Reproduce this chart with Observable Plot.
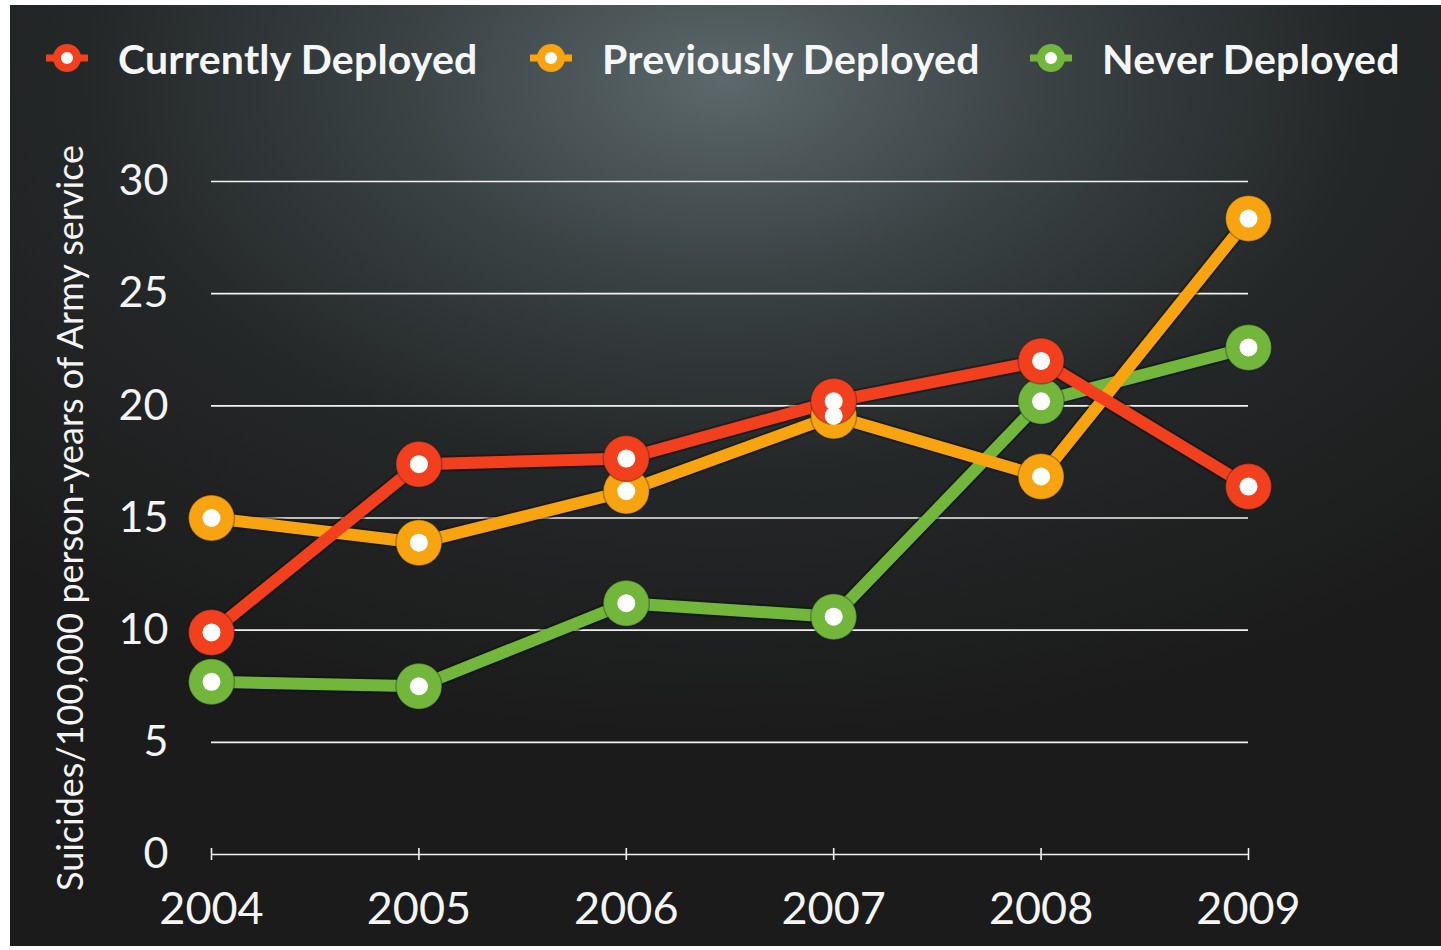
<!DOCTYPE html>
<html>
<head>
<meta charset="utf-8">
<script src="https://cdn.jsdelivr.net/npm/d3@7"></script>
<script src="https://cdn.jsdelivr.net/npm/@observablehq/plot@0.6"></script>
<style>
  html, body { margin: 0; padding: 0; background: #ffffff; }
  #card {
    position: absolute; left: 10px; top: 5px; width: 1431px; height: 941px;
    background: radial-gradient(ellipse 75% 70% at 50% 8%, #5c686b 0%, #3a4244 30%, #242728 60%, #1b1b1b 100%);
    overflow: hidden;
  }
  #legend { position: absolute; left: 0; top: 0; width: 1431px; height: 110px; }
  .item { position: absolute; top: 23px; height: 60px; display: flex; align-items: center; }
  .item span { font-family: Lato, "Open Sans", sans-serif; font-weight: 700; font-size: 41px; color: #f4f6f8; margin-left: 30px; letter-spacing: 0.2px; }
  #chart { position: absolute; left: 0; top: 110px; }
</style>
</head>
<body>
<div id="card">
  <div id="legend"></div>
  <div id="chart"></div>
</div>
<script>
const years = [2004, 2005, 2006, 2007, 2008, 2009];
const seriesNames = ["Currently Deployed", "Previously Deployed", "Never Deployed"];
const seriesColors = ["#f2401e", "#f8a410", "#72b63c"];
const currentlyDeployed = [9.9, 17.4, 17.65, 20.2, 22.0, 16.4];
const previouslyDeployed = [15.0, 13.9, 16.2, 19.55, 16.85, 28.35];
const neverDeployed = [7.7, 7.5, 11.2, 10.6, 20.2, 22.6];
const yTicks = [0, 5, 10, 15, 20, 25, 30];
const yLabel = "Suicides/100,000 person-years of Army service";

const valuesBySeries = [currentlyDeployed, previouslyDeployed, neverDeployed];
// draw order: green, orange, red (red on top)
const drawOrder = [2, 1, 0];
const data = [];
for (const s of drawOrder) {
  years.forEach((yr, i) => data.push({series: seriesNames[s], year: yr, value: valuesBySeries[s][i]}));
}

// Legend
const legendX = [36, 520, 1020];
const legend = document.getElementById("legend");
seriesNames.forEach((name, i) => {
  const div = document.createElement("div");
  div.className = "item";
  div.style.left = legendX[i] + "px";
  div.innerHTML = `<svg width="42" height="32" viewBox="0 0 42 32">
      <line x1="0" y1="16" x2="42" y2="16" stroke="${seriesColors[i]}" stroke-width="7"/>
      <circle cx="21" cy="16" r="14" fill="${seriesColors[i]}"/>
      <circle cx="21" cy="16" r="6" fill="#ffffff"/>
    </svg><span>${name}</span>`;
  legend.appendChild(div);
});

const color = {domain: seriesNames, range: seriesColors};
const chart = Plot.plot({
  width: 1431,
  height: 831,
  marginLeft: 201,
  marginRight: 193,
  marginTop: 66,
  marginBottom: 92,
  style: {background: "transparent", color: "#f4f4f4", fontFamily: "Lato, 'Open Sans', sans-serif", overflow: "visible"},
  x: {domain: [2004, 2009]},
  y: {domain: [0, 30]},
  color,
  marks: [
    Plot.ruleY(yTicks, {stroke: "#f2f2f2", strokeWidth: 1.6}),
    Plot.ruleX(years, {x: d => d, y1: 0, y2: 0, insetTop: -6, insetBottom: -6, stroke: "#f2f2f2", strokeWidth: 1.6}),
    Plot.axisY({ticks: yTicks, tickSize: 0, tickPadding: 43, fontSize: 43, fill: "#f4f4f4", label: null}),
    Plot.axisX({ticks: years, tickFormat: d => String(d), tickSize: 0, tickPadding: 38, fontSize: 45, fill: "#f4f4f4", label: null}),
    Plot.text([yLabel], {frameAnchor: "left", textAnchor: "middle", rotate: -90, dx: -140, fontSize: 36, fill: "#f4f4f4", text: d => d}),
    Plot.line(data, {x: "year", y: "value", z: "series", stroke: "#0d0d0d", strokeWidth: 16, strokeOpacity: 0.45}),
    Plot.line(data, {x: "year", y: "value", z: "series", stroke: "series", strokeWidth: 12}),
    Plot.dot(data, {x: "year", y: "value", r: 23, fill: "series", stroke: "#111", strokeOpacity: 0.3, strokeWidth: 1.5}),
    Plot.dot(data, {x: "year", y: "value", r: 9, fill: "#ffffff"})
  ]
});
document.getElementById("chart").appendChild(chart);
</script>
</body>
</html>
